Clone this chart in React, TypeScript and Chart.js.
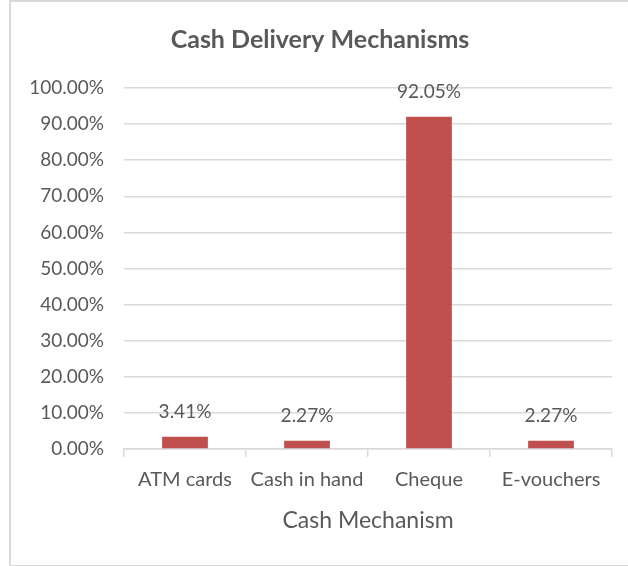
import React, { useEffect, useRef } from "react";
import { Chart, registerables } from "chart.js";

Chart.register(...registerables);

const categories = ["ATM cards", "Cash in hand", "Cheque", "E-vouchers"];
const values = [3.41, 2.27, 92.05, 2.27];
const yTicks = [0, 10, 20, 30, 40, 50, 60, 70, 80, 90, 100];
const chartTitle = "Cash Delivery Mechanisms";
const xTitle = "Cash Mechanism";

const FONT = "Lato, 'Open Sans', sans-serif";
const TEXT = "#595959";
const GRID = "#d9d9d9";

const labelPlugin = {
  id: "barLabels",
  afterDatasetsDraw(chart: any) {
    const ctx = chart.ctx;
    const meta = chart.getDatasetMeta(0);
    ctx.save();
    ctx.font = `19px ${FONT}`;
    ctx.fillStyle = TEXT;
    ctx.textAlign = "center";
    ctx.textBaseline = "middle";
    meta.data.forEach((el: any, i: number) => {
      ctx.fillText(values[i].toFixed(2) + "%", el.x, el.y - 25);
    });
    ctx.restore();
  },
};

export default function App() {
  const ref = useRef<HTMLCanvasElement | null>(null);
  useEffect(() => {
    if (!ref.current) return;
    const chart = new Chart(ref.current, {
      type: "bar",
      data: {
        labels: categories,
        datasets: [
          {
            data: values,
            backgroundColor: "#C0504D",
            borderWidth: 0,
            barPercentage: 0.375,
            categoryPercentage: 1,
          },
        ],
      },
      options: {
        animation: false,
        responsive: false,
        maintainAspectRatio: false,
        layout: { padding: { left: 28, right: 16, top: 0, bottom: 0 } },
        plugins: {
          legend: { display: false },
          tooltip: { enabled: false },
          title: {
            display: true,
            text: chartTitle,
            color: TEXT,
            font: { family: FONT, size: 25, weight: "bold" },
            padding: { top: 25, bottom: 33 },
          },
        },
        scales: {
          x: {
            grid: {
              display: true,
              drawOnChartArea: false,
              drawTicks: true,
              tickLength: 8,
              color: GRID,
              lineWidth: 1.5,
              offset: true,
            },
            border: { display: true, color: GRID, width: 1.5 },
            ticks: {
              color: TEXT,
              font: { family: FONT, size: 20 },
              padding: 11,
            },
            title: {
              display: true,
              text: xTitle,
              color: TEXT,
              font: { family: FONT, size: 23 },
              padding: { top: 10, bottom: 32 },
            },
            afterFit(scale: any) {
              scale.height = 566 - 449;
            },
          },
          y: {
            min: 0,
            max: 100,
            afterBuildTicks(scale: any) {
              scale.ticks = yTicks.map((v) => ({ value: v }));
            },
            grid: { color: GRID, lineWidth: 1.5, drawTicks: false },
            border: { display: false },
            ticks: {
              color: TEXT,
              font: { family: FONT, size: 19 },
              padding: 20,
              callback: (v: any) => Number(v).toFixed(2) + "%",
            },
            afterFit(scale: any) {
              scale.width = 96;
            },
          },
        },
      },
      plugins: [labelPlugin],
    });
    return () => chart.destroy();
  }, []);

  return (
    <div style={{ position: "absolute", left: 0, top: 0, width: 628, height: 566, background: "#fff", overflow: "hidden" }}>
      <div
        style={{
          position: "absolute",
          left: 9,
          top: 0,
          width: 640,
          height: 563,
          borderLeft: "2px solid #d9d9d9",
          borderTop: "2px solid #d9d9d9",
          borderBottom: "2px solid #d9d9d9",
        }}
      />
      <canvas ref={ref} width={628} height={566} style={{ position: "absolute", left: 0, top: 0 }} />
    </div>
  );
}
